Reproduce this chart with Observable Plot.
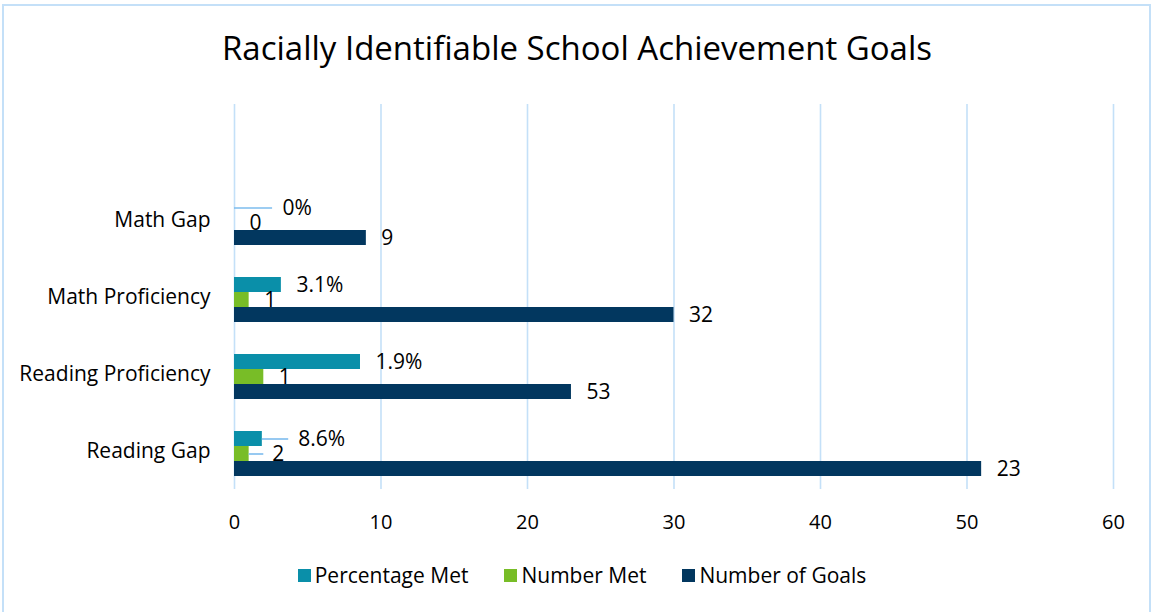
<!DOCTYPE html>
<html>
<head>
<meta charset="utf-8">
<script src="https://cdn.jsdelivr.net/npm/d3@7"></script>
<script src="https://cdn.jsdelivr.net/npm/@observablehq/plot@0.6"></script>
<style>
  html, body { margin: 0; padding: 0; background: #fff; }
  body { width: 1154px; height: 612px; position: relative; overflow: hidden; font-family: "Open Sans", sans-serif; color: #000; }
  #frame { position: absolute; left: 2px; top: 4px; width: 1149px; height: 640px; border: 2px solid #c4e0f8; box-sizing: border-box; }
  #title { position: absolute; left: 0; top: 25px; width: 1154px; text-align: center; font-size: 33px; line-height: 46px; }
  #chart { position: absolute; left: 0; top: 95px; }
  #legend { position: absolute; left: 0; top: 561px; width: 1154px; display: flex; justify-content: center; font-size: 21px; line-height: 28px; padding-left: 10px; box-sizing: border-box; }
  .item { display: flex; align-items: center; margin: 0 18px; }
  .sw { width: 13px; height: 13px; margin-right: 4px; }
</style>
</head>
<body>
<div id="frame"></div>
<div id="title">Racially Identifiable School Achievement Goals</div>
<div id="chart"></div>
<div id="legend"></div>
<script>
// ---- data ----
const categories = ["Math Gap", "Math Proficiency", "Reading Proficiency", "Reading Gap"];
const series = ["Percentage Met", "Number Met", "Number of Goals"];
const seriesColors = ["#0a8fa9", "#78bd27", "#02375f"];
// bar lengths as drawn
const percentageMet = [0, 3.2, 8.6, 1.9];
const numberMet = [0, 1, 2, 1];
const numberOfGoals = [9, 30, 23, 51];
// data labels as printed
const percentageLabels = ["0%", "3.1%", "1.9%", "8.6%"];
const numberMetLabels = ["0", "1", "1", "2"];
const goalLabels = ["9", "32", "53", "23"];
const xTicks = [0, 10, 20, 30, 40, 50, 60];

const values = [percentageMet, numberMet, numberOfGoals];
const labels = [percentageLabels, numberMetLabels, goalLabels];
const rows = categories.flatMap((c, i) => series.map((s, j) => ({
  category: c, series: s, value: values[j][i], label: labels[j][i]
})));

// the category axis has an empty slot at the top
const fyDomain = ["", ...categories];
const gridRows = fyDomain.flatMap(f => xTicks.map(x => ({category: f, x})));

// labels pulled away from their bars with a leader line (layout config)
const leaders = [
  {category: "Math Gap", series: "Percentage Met", len: 2.6, dx: 48},
  {category: "Reading Gap", series: "Percentage Met", len: 1.8, dx: 36},
  {category: "Reading Gap", series: "Number Met", len: 1.0, dx: 23}
];
const isLeader = d => leaders.some(l => l.category === d.category && l.series === d.series);

const gridColor = "#c4e0f8";

const marks = [
  Plot.ruleX(gridRows, {fy: "category", x: "x", stroke: gridColor, strokeWidth: 1.6}),
  Plot.barX(rows, {fy: "category", y: "series", x: "value", fill: "series"}),
  Plot.text(rows, {filter: d => !isLeader(d), fy: "category", y: "series", x: "value", text: "label",
    textAnchor: "start", dx: 15, fontSize: 21, fill: "#000"}),
  ...leaders.map(l => Plot.ruleY(rows, {
    filter: d => d.category === l.category && d.series === l.series,
    fy: "category", y: "series", x1: "value", x2: d => d.value + l.len,
    stroke: "#7dbcee", strokeWidth: 1.6
  })),
  ...leaders.map(l => Plot.text(rows, {
    filter: d => d.category === l.category && d.series === l.series,
    fy: "category", y: "series", x: "value", text: "label",
    textAnchor: "start", dx: l.dx, fontSize: 21, fill: "#000"
  })),
  Plot.axisX({ticks: xTicks, tickSize: 0, tickPadding: 25, fontSize: 20, label: null}),
  Plot.axisFy({anchor: "left", tickSize: 0, tickPadding: 24, label: null, fontSize: 21})
];

const chart = Plot.plot({
  width: 1154,
  height: 457,
  marginTop: 8,
  marginBottom: 62,
  marginLeft: 234,
  marginRight: 41,
  style: {fontFamily: "Open Sans", fontSize: "21px", color: "#000", background: "transparent", overflow: "visible"},
  x: {domain: [0, 60], axis: null},
  y: {domain: series, paddingInner: 0, paddingOuter: 0.97, align: 0.58, axis: null},
  fy: {domain: fyDomain, padding: 0, axis: null},
  color: {domain: series, range: seriesColors},
  marks
});
document.getElementById("chart").appendChild(chart);

const legend = document.getElementById("legend");
series.forEach((s, i) => {
  const item = document.createElement("div");
  item.className = "item";
  const sw = document.createElement("span");
  sw.className = "sw";
  sw.style.background = seriesColors[i];
  const t = document.createElement("span");
  t.textContent = s;
  item.appendChild(sw);
  item.appendChild(t);
  legend.appendChild(item);
});
</script>
</body>
</html>
